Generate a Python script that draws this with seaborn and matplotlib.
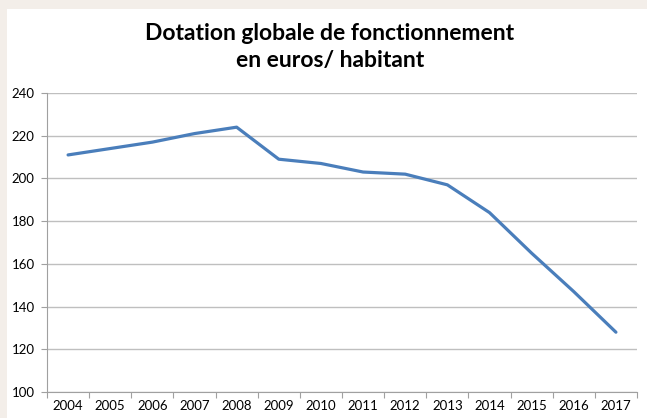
import matplotlib
matplotlib.use("Agg")
import matplotlib.pyplot as plt
import seaborn as sns
import pandas as pd
from matplotlib.patches import Rectangle
from matplotlib.ticker import MultipleLocator, FixedLocator

years = ["2004", "2005", "2006", "2007", "2008", "2009", "2010",
         "2011", "2012", "2013", "2014", "2015", "2016", "2017"]
dgf = [211, 214, 217, 221, 224, 209, 207, 203, 202, 197, 184, 165, 147, 128]

df = pd.DataFrame({"idx": range(len(years)), "annee": years, "dgf": dgf})

sns.set_theme(style="white")
plt.rcParams["font.family"] = ["Lato", "DejaVu Sans"]

W, H = 647, 418
fig = plt.figure(figsize=(W / 100, H / 100), dpi=100)
fig.patch.set_facecolor("#f3eee9")
fig.patches.append(Rectangle((7 / W, 0), 1 - 7 / W, 1 - 9 / H, transform=fig.transFigure,
                             facecolor="white", edgecolor="none", zorder=-10))

ax = fig.add_axes([47 / W, (H - 392) / H, (637 - 47) / W, (392 - 93) / H])
ax.set_facecolor("white")
ax.set_zorder(1)

sns.lineplot(data=df, x="idx", y="dgf", ax=ax, color="#4a7ebb", linewidth=2.3)

ax.set_xlim(-0.5, len(years) - 0.5)
ax.set_ylim(100, 240)
ax.yaxis.set_major_locator(MultipleLocator(20))
ax.grid(axis="y", color="#bfbfbf", linewidth=1.0)
ax.set_axisbelow(True)

ax.set_xticks(range(len(years)))
ax.set_xticklabels(years)
ax.xaxis.set_minor_locator(FixedLocator([i - 0.5 for i in range(len(years) + 1)]))
ax.tick_params(axis="x", which="major", length=0, pad=6, labelsize=9.5, colors="black")
ax.tick_params(axis="x", which="minor", length=4, width=0.8, color="#a0a0a0", bottom=True)
ax.tick_params(axis="y", which="major", length=4, width=0.8, color="#a0a0a0", left=True,
               labelsize=9.5, labelcolor="black", pad=5)

for s in ["top", "right"]:
    ax.spines[s].set_visible(False)
for s in ["left", "bottom"]:
    ax.spines[s].set_color("#a0a0a0")
    ax.spines[s].set_linewidth(0.8)

ax.set_xlabel("")
ax.set_ylabel("")

fig.text(330 / W, 1 - 47 / H, "Dotation globale de fonctionnement\nen euros/ habitant",
         ha="center", va="center", fontsize=16.5, fontweight="bold", linespacing=1.3,
         color="black")

fig.savefig("out.png", dpi=100, facecolor=fig.get_facecolor())
